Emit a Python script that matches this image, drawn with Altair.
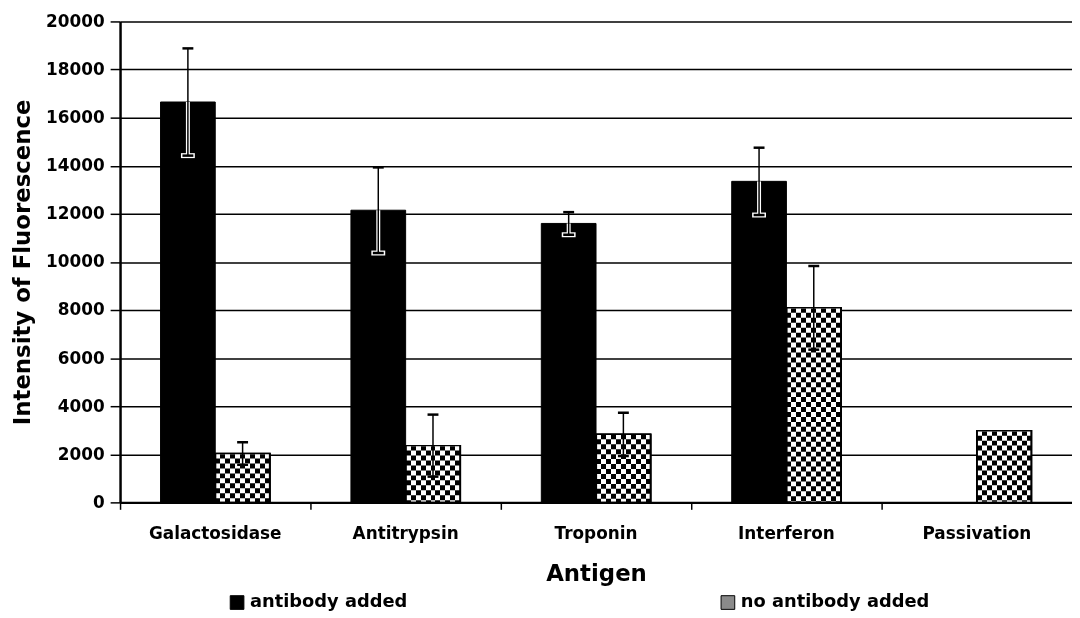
import altair as alt
import pandas as pd

antigens = ["Galactosidase", "Antitrypsin", "Troponin", "Interferon", "Passivation"]
series = ["antibody added", "no antibody added"]
ab_values = [16650, 12150, 11600, 13350, None]
ab_errors = [2230, 1780, 470, 1400, None]
no_values = [2030, 2360, 2830, 8090, 2980]
no_errors = [470, 1290, 900, 1740, None]
y_ticks = [0, 2000, 4000, 6000, 8000, 10000, 12000, 14000, 16000, 18000, 20000]

FONT = "DejaVu Sans"
W, H = 960, 485
BAR_W = 55

rows = []
for s, vals, errs in [(series[0], ab_values, ab_errors), (series[1], no_values, no_errors)]:
    for a, v, e in zip(antigens, vals, errs):
        if v is None:
            continue
        rows.append(dict(antigen=a, series=s, value=v,
                         lower=(v - e) if e is not None else None,
                         upper=(v + e) if e is not None else None))
df = pd.DataFrame(rows)

x_enc = alt.X("antigen:N", sort=antigens,
              scale=alt.Scale(paddingInner=0, paddingOuter=0),
              axis=alt.Axis(title="Antigen", labelAngle=0, bandPosition=0,
                            tickSize=7, tickWidth=1.5,
                            tickColor="black", domainColor="black", domainWidth=2.5,
                            labelPadding=16, titlePadding=22, labelFontSize=17,
                            titleFontSize=23, grid=False))
xo_enc = alt.XOffset("series:N", sort=series,
                     scale=alt.Scale(paddingOuter=0.74, paddingInner=0))
y_scale = alt.Scale(domain=[0, 20000], nice=False)
y_axis = alt.Axis(title="Intensity of Fluorescence", values=y_ticks, format="d",
                  grid=True, gridColor="black", gridWidth=1.5, gridOpacity=1,
                  domainColor="black", domainWidth=2.5, tickColor="black",
                  tickSize=10, tickWidth=1.5, labelPadding=6, labelFontSize=17,
                  titleFontSize=23, titlePadding=11)


def yq(field):
    return alt.Y(field, type="quantitative", scale=y_scale, axis=y_axis)


base = alt.Chart(df)

bars = base.mark_bar(stroke="black", strokeWidth=1).encode(
    x=x_enc, xOffset=xo_enc, y=yq("value"),
    color=alt.Color("series:N", scale=alt.Scale(domain=series, range=["black", "#8a8a8a"]),
                    legend=alt.Legend(title=None, orient="none", direction="horizontal",
                                      legendX=109, legendY=577, symbolType="square",
                                      symbolSize=190, symbolStrokeColor="black",
                                      symbolStrokeWidth=1, labelFontSize=18,
                                      labelFont=FONT, labelFontWeight="bold",
                                      labelColor="black", columnPadding=314,
                                      labelLimit=0, padding=0)),
)

# vertical stripe gradient for checker bars
n_stripes = 11
stops = []
for k in range(n_stripes):
    c = "black" if k % 2 == 0 else "white"
    stops.append({"offset": k / n_stripes, "color": c})
    stops.append({"offset": (k + 1) / n_stripes, "color": c})
grad = {"gradient": "linear", "x1": 0, "y1": 0, "x2": 1, "y2": 0, "stops": stops}

no_filter = alt.datum.series == series[1]

checker_a = base.transform_filter(no_filter).mark_bar(
    fill=grad, stroke="black", strokeWidth=1.5).encode(
    x=x_enc, xOffset=xo_enc, y=yq("value"))

checker_b = base.transform_filter(no_filter).mark_rule(
    color="white", strokeWidth=BAR_W - 2, strokeDash=[5, 5], strokeCap="butt",
    blend="difference").encode(
    x=x_enc, xOffset=xo_enc, y=yq("value"), y2=alt.datum(0))

checker_c = base.transform_filter(no_filter).mark_bar(
    fill=None, fillOpacity=0, stroke="black", strokeWidth=1.5).encode(
    x=x_enc, xOffset=xo_enc, y=yq("value"))

err = base.transform_filter("isValid(datum.lower)")
ab_err = err.transform_filter(alt.datum.series == series[0])

err_white = ab_err.mark_rule(color="white", strokeWidth=4).encode(
    x=x_enc, xOffset=xo_enc, y=yq("lower"), y2="value:Q")
cap_white = ab_err.mark_tick(color="white", thickness=5, size=14, opacity=1).encode(
    x=x_enc, xOffset=xo_enc, y=yq("lower"))
err_rule = err.mark_rule(color="black", strokeWidth=1.5).encode(
    x=x_enc, xOffset=xo_enc, y=yq("lower"), y2="upper:Q")
cap_up = err.mark_tick(color="black", thickness=2.5, size=11, opacity=1).encode(
    x=x_enc, xOffset=xo_enc, y=yq("upper"))
cap_lo = err.mark_tick(color="black", thickness=2.5, size=11, opacity=1).encode(
    x=x_enc, xOffset=xo_enc, y=yq("lower"))

chart = alt.layer(bars, checker_a, checker_b, checker_c, err_white, cap_white,
                  err_rule, cap_up, cap_lo).properties(
    width=W, height=H,
    padding={"left": 3, "right": 0, "top": 2, "bottom": 0},
    background="white",
).configure_view(stroke=None).configure_axis(
    labelFont=FONT, labelFontWeight="bold", labelColor="black",
    titleFont=FONT, titleFontWeight="bold", titleColor="black",
)

chart.save("out.html", embed_options={"renderer": "svg", "actions": False})
